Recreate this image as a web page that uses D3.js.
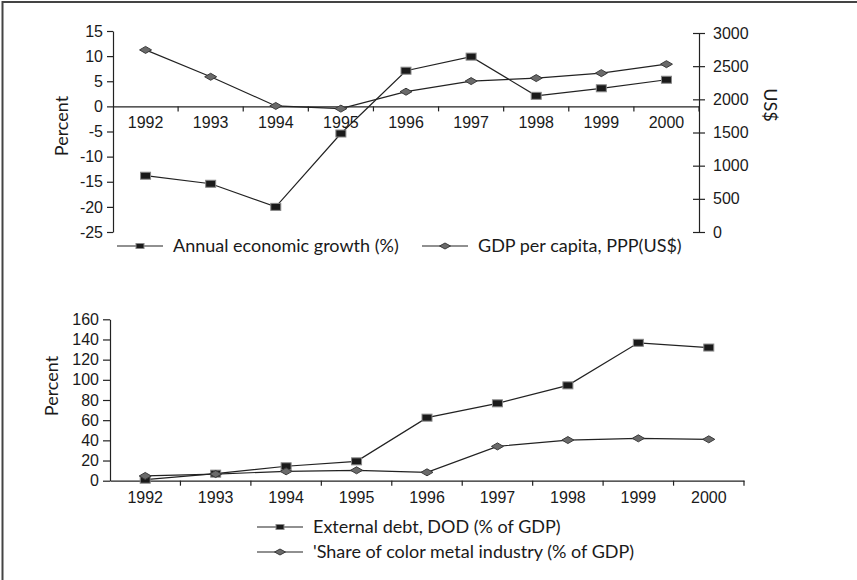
<!DOCTYPE html>
<html>
<head>
<meta charset="utf-8">
<script src="https://cdn.jsdelivr.net/npm/d3@7"></script>
<style>
  body { margin: 0; background: #fff; }
  svg { display: block; font-family: Lato, 'Open Sans', sans-serif; }
  .axis path, .axis line { stroke: #222; }
  .axis text { fill: #1a1a1a; font-size: 16px; }
</style>
</head>
<body>
<svg id="chart" width="857" height="580"></svg>
<script>
// years shared by both panels
const years = ['1992', '1993', '1994', '1995', '1996', '1997', '1998', '1999', '2000'];

// top panel
const growth = [-13.8, -15.4, -20, -5.4, 7.1, 9.9, 2.1, 3.6, 5.3];
const gdpPerCapita = [2745, 2340, 1900, 1860, 2115, 2275, 2320, 2395, 2530];
const growthTicks = [-25, -20, -15, -10, -5, 0, 5, 10, 15];
const usdTicks = [0, 500, 1000, 1500, 2000, 2500, 3000];

// bottom panel
const externalDebt = [1, 7, 14.3, 19.2, 62.5, 76.7, 94.5, 136.7, 132];
const metalShare = [4.7, 6.6, 9.3, 10.3, 8.3, 34, 40.3, 42, 41];
const percentTicks = [0, 20, 40, 60, 80, 100, 120, 140, 160];

const svg = d3.select('#chart');
const plain = (d) => String(d); // hyphen minus, no thousands comma

// frame (left and top edges only)
svg.append('line').attr('x1', 2.5).attr('x2', 2.5).attr('y1', 1).attr('y2', 580)
  .attr('stroke', '#444').attr('stroke-width', 2);
svg.append('line').attr('x1', 2).attr('x2', 857).attr('y1', 2).attr('y2', 2)
  .attr('stroke', '#444').attr('stroke-width', 2);

function squareMark(g, x, y, w, h) {
  g.append('rect')
    .attr('x', x - w / 2).attr('y', y - h / 2)
    .attr('width', w).attr('height', h)
    .attr('fill', '#1a1a1a').attr('stroke', '#888').attr('stroke-width', 1);
}

function diamondMark(g, x, y, w, h) {
  g.append('path')
    .attr('d', `M${x - w / 2},${y}L${x},${y - h / 2}L${x + w / 2},${y}L${x},${y + h / 2}Z`)
    .attr('fill', '#6a6a6a').attr('stroke', '#3a3a3a').attr('stroke-width', 1);
}

function series(g, x, y, values, kind) {
  const line = d3.line()
    .x((d, i) => x(years[i]) + x.bandwidth() / 2)
    .y((d) => y(d));
  g.append('path').attr('d', line(values))
    .attr('fill', 'none').attr('stroke', '#222').attr('stroke-width', 1.2);
  values.forEach((v, i) => {
    const cx = x(years[i]) + x.bandwidth() / 2;
    if (kind === 'square') squareMark(g, cx, y(v), 10, 7);
    else diamondMark(g, cx, y(v), 12, 7);
  });
}

function categoryAxis(g, x, yPos, labelDy) {
  const ax = g.append('g').attr('class', 'axis').attr('transform', `translate(0,${yPos})`)
    .call(d3.axisBottom(x).tickSize(0).tickPadding(labelDy));
  ax.select('.domain').attr('stroke-width', 1.2);
  // ticks sit on the boundaries between years
  ax.selectAll('.bound')
    .data(years)
    .join('line')
    .attr('class', 'bound')
    .attr('x1', (d) => x(d) + x.bandwidth())
    .attr('x2', (d) => x(d) + x.bandwidth())
    .attr('y1', 0).attr('y2', 5)
    .attr('stroke', '#222').attr('stroke-width', 1.2);
  return ax;
}

function legendItem(g, x0, y, kind, label) {
  g.append('line').attr('x1', x0).attr('x2', x0 + 46).attr('y1', y).attr('y2', y)
    .attr('stroke', '#222').attr('stroke-width', 1.2);
  if (kind === 'square') squareMark(g, x0 + 23, y, 8, 5);
  else diamondMark(g, x0 + 23, y, 11, 6);
  g.append('text').attr('x', x0 + 56).attr('y', y).attr('dy', '0.35em')
    .attr('font-size', 18).attr('fill', '#1a1a1a').text(label);
}

// ---------- top panel ----------
const topPanel = svg.append('g');
const xTop = d3.scaleBand().domain(years).range([113, 699]);
const yLeft = d3.scaleLinear().domain([-25, 15]).range([232, 31]);
const yRight = d3.scaleLinear().domain([0, 3000]).range([232, 33]);

const leftAx = topPanel.append('g').attr('class', 'axis').attr('transform', 'translate(113,0)')
  .call(d3.axisLeft(yLeft).tickValues(growthTicks).tickFormat(plain)
    .tickSize(6).tickSizeOuter(0).tickPadding(4));
leftAx.selectAll('line, .domain').attr('stroke-width', 1.2);

const rightAx = topPanel.append('g').attr('class', 'axis').attr('transform', 'translate(699,0)')
  .call(d3.axisRight(yRight).tickValues(usdTicks).tickFormat(plain)
    .tickSize(6).tickSizeOuter(0).tickPadding(8));
rightAx.selectAll('.tick line').attr('x1', -6);
rightAx.selectAll('line, .domain').attr('stroke-width', 1.2);

categoryAxis(topPanel, xTop, yLeft(0), 10);

series(topPanel, xTop, yLeft, growth, 'square');
series(topPanel, xTop, yRight, gdpPerCapita, 'diamond');

topPanel.append('text').attr('transform', 'translate(62,126) rotate(-90)')
  .attr('text-anchor', 'middle').attr('dy', '0.35em')
  .attr('font-size', 18).attr('fill', '#1a1a1a').text('Percent');
topPanel.append('text').attr('transform', 'translate(770,105) rotate(90)')
  .attr('text-anchor', 'middle').attr('dy', '0.35em')
  .attr('font-size', 18).attr('fill', '#1a1a1a').text('US$');

legendItem(topPanel, 117, 246, 'square', 'Annual economic growth (%)');
legendItem(topPanel, 422, 246, 'diamond', 'GDP per capita, PPP(US$)');

// ---------- bottom panel ----------
const bottomPanel = svg.append('g');
const xBot = d3.scaleBand().domain(years).range([110, 744]);
const yBot = d3.scaleLinear().domain([0, 160]).range([480.7, 319.3]);

const botAx = bottomPanel.append('g').attr('class', 'axis').attr('transform', 'translate(110,0)')
  .call(d3.axisLeft(yBot).tickValues(percentTicks).tickFormat(plain)
    .tickSize(7).tickSizeOuter(0).tickPadding(4));
botAx.selectAll('line, .domain').attr('stroke-width', 1.2);

categoryAxis(bottomPanel, xBot, yBot(0), 11);

series(bottomPanel, xBot, yBot, externalDebt, 'square');
series(bottomPanel, xBot, yBot, metalShare, 'diamond');

bottomPanel.append('text').attr('transform', 'translate(52,386) rotate(-90)')
  .attr('text-anchor', 'middle').attr('dy', '0.35em')
  .attr('font-size', 18).attr('fill', '#1a1a1a').text('Percent');

legendItem(bottomPanel, 257, 527, 'square', 'External debt, DOD (% of GDP)');
legendItem(bottomPanel, 257, 552, 'diamond', "'Share of color metal industry (% of GDP)");
</script>
</body>
</html>
